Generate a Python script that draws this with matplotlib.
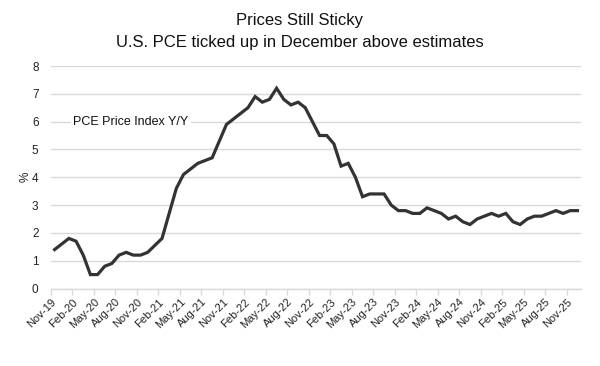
import matplotlib
matplotlib.use("Agg")
import matplotlib.pyplot as plt
import numpy as np

plt.rcParams['font.family'] = ['Liberation Sans', 'DejaVu Sans']

# Monthly PCE Price Index Y/Y, Nov-19 .. Dec-25
months = ["Nov-19", "Dec-19",
          "Jan-20", "Feb-20", "Mar-20", "Apr-20", "May-20", "Jun-20", "Jul-20", "Aug-20", "Sep-20", "Oct-20", "Nov-20", "Dec-20",
          "Jan-21", "Feb-21", "Mar-21", "Apr-21", "May-21", "Jun-21", "Jul-21", "Aug-21", "Sep-21", "Oct-21", "Nov-21", "Dec-21",
          "Jan-22", "Feb-22", "Mar-22", "Apr-22", "May-22", "Jun-22", "Jul-22", "Aug-22", "Sep-22", "Oct-22", "Nov-22", "Dec-22",
          "Jan-23", "Feb-23", "Mar-23", "Apr-23", "May-23", "Jun-23", "Jul-23", "Aug-23", "Sep-23", "Oct-23", "Nov-23", "Dec-23",
          "Jan-24", "Feb-24", "Mar-24", "Apr-24", "May-24", "Jun-24", "Jul-24", "Aug-24", "Sep-24", "Oct-24", "Nov-24", "Dec-24",
          "Jan-25", "Feb-25", "Mar-25", "Apr-25", "May-25", "Jun-25", "Jul-25", "Aug-25", "Sep-25", "Oct-25", "Nov-25", "Dec-25"]
pce = [1.4, 1.6,
       1.8, 1.7, 1.2, 0.5, 0.5, 0.8, 0.9, 1.2, 1.3, 1.2, 1.2, 1.3,
       1.55, 1.8, 2.7, 3.6, 4.1, 4.3, 4.5, 4.6, 4.7, 5.3, 5.9, 6.1,
       6.3, 6.5, 6.9, 6.7, 6.8, 7.2, 6.8, 6.6, 6.7, 6.5, 6.0, 5.5,
       5.5, 5.2, 4.4, 4.5, 4.0, 3.3, 3.4, 3.4, 3.4, 3.0, 2.8, 2.8,
       2.7, 2.7, 2.9, 2.8, 2.7, 2.5, 2.6, 2.4, 2.3, 2.5, 2.6, 2.7,
       2.6, 2.7, 2.4, 2.3, 2.5, 2.6, 2.6, 2.7, 2.8, 2.7, 2.8, 2.8]

title_lines = ["Prices Still Sticky", "U.S. PCE ticked up in December above estimates"]
series_label = "PCE Price Index Y/Y"
y_ticks = [0, 1, 2, 3, 4, 5, 6, 7, 8]

fig = plt.figure(figsize=(6.0, 3.66), dpi=100)
ax = fig.add_axes([51/600, 1-288.5/366, (581-51)/600, (288.5-66)/366])

x = np.arange(len(pce)) + 0.5
ax.plot(x, pce, color='#333333', lw=2.3, solid_joinstyle='miter', zorder=3)

ax.set_xlim(0, len(pce))
ax.set_ylim(0, 8)
ax.set_yticks(y_ticks)
ax.set_yticklabels([str(v) for v in y_ticks], fontsize=8.5, color='#222222')
ax.yaxis.grid(True, color='#d9d9d9', lw=1.0)
ax.set_axisbelow(True)
ax.tick_params(axis='y', length=0, pad=9)

tick_pos = list(range(0, len(pce), 3))
ax.set_xticks(tick_pos)
ax.set_xticklabels([months[i] for i in tick_pos], rotation=45, ha='right', va='top',
                   rotation_mode='anchor', fontsize=8, color='#222222')
ax.tick_params(axis='x', length=4, color='#d9d9d9', width=1.0, pad=2)

for s in ['top', 'right', 'left']:
    ax.spines[s].set_visible(False)
ax.spines['bottom'].set_color('#d9d9d9')
ax.spines['bottom'].set_linewidth(1.0)

ax.set_ylabel('%', fontsize=8.5, color='#222222', labelpad=0)

ax.text(3.1, 6.0, series_label, fontsize=9, color='#111111',
        va='center', ha='left', zorder=4,
        bbox=dict(facecolor='white', edgecolor='none', pad=1.5))

fig.text(0.5, 1 - 20/366, title_lines[0], ha='center', va='center', fontsize=12, color='#111111')
fig.text(0.5, 1 - 42/366, title_lines[1], ha='center', va='center', fontsize=12, color='#111111')

fig.savefig('out.png', dpi=100)
